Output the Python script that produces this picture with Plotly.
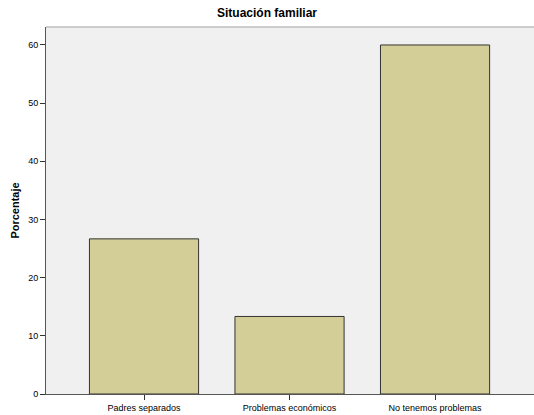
import plotly.graph_objects as go

categories = ["Padres separados", "Problemas económicos", "No tenemos problemas"]
values = [26.67, 13.33, 60.0]
y_ticks = [0, 10, 20, 30, 40, 50, 60]

fig = go.Figure()
fig.add_trace(go.Bar(
    x=[0, 1, 2], y=values, width=0.75,
    marker=dict(color="#D3CE98", line=dict(color="#333333", width=1)),
))

font = "Liberation Sans, Arial, sans-serif"
fig.update_layout(
    width=534, height=415,
    margin=dict(l=46, r=0, t=27, b=21),
    paper_bgcolor="white", plot_bgcolor="#F0F0F0",
    showlegend=False,
    title=dict(text="<b>Situación familiar</b>", x=0.5, xanchor="center",
               y=1 - 13 / 415, yanchor="middle",
               font=dict(family=font, size=12, color="black")),
    font=dict(family=font, size=9, color="black"),
    xaxis=dict(range=[-0.6735, 2.680], tickvals=[0, 1, 2], ticktext=categories,
               showgrid=False, zeroline=False, showline=True, linecolor="#555555",
               linewidth=1, ticks="outside", ticklen=5, tickcolor="#333333",
               tickfont=dict(size=9), fixedrange=True),
    yaxis=dict(range=[0, 63.09], tickvals=y_ticks, showgrid=False, zeroline=False,
               showline=True, linecolor="#555555", linewidth=1, ticks="outside",
               ticklen=5, tickcolor="#333333", tickfont=dict(size=9),
               title=dict(text="<b>Porcentaje</b>", font=dict(size=11), standoff=6)),
    shapes=[dict(type="line", xref="paper", yref="paper", x0=0, x1=1, y0=1, y1=1,
                 line=dict(color="#A0A0A0", width=1))],
)
fig.write_html("out.html", config={"displayModeBar": False},
               post_script="document.body.style.margin='0';document.body.style.padding='0';")
